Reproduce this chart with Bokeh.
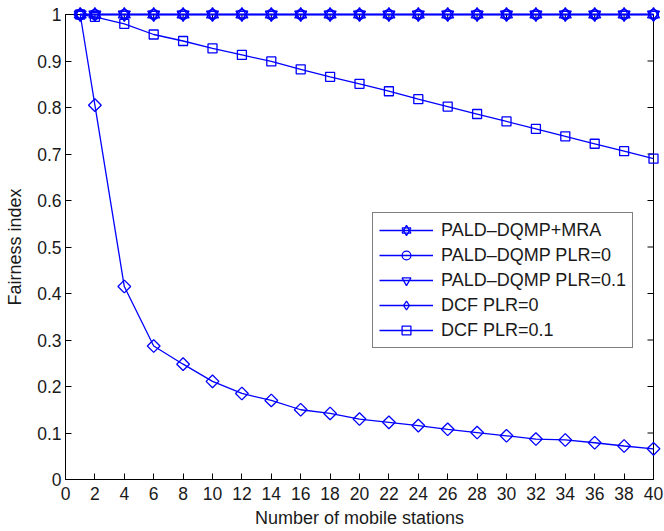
import numpy as np
from bokeh.plotting import figure
from bokeh.models import FixedTicker, Legend, LegendItem, Range1d
from bokeh.embed import file_html
from bokeh.resources import INLINE

stations = [1, 2, 4, 6, 8, 10, 12, 14, 16, 18, 20, 22, 24, 26, 28, 30, 32, 34, 36, 38, 40]
pald_mra = [1.0, 1.0, 1.0, 1.0, 1.0, 1.0, 1.0, 1.0, 1.0, 1.0, 1.0,
            1.0, 1.0, 1.0, 1.0, 1.0, 1.0, 1.0, 1.0, 1.0, 1.0]
pald_plr0 = [1.0, 1.0, 1.0, 1.0, 1.0, 1.0, 1.0, 1.0, 1.0, 1.0, 1.0,
             1.0, 1.0, 1.0, 1.0, 1.0, 1.0, 1.0, 1.0, 1.0, 1.0]
pald_plr01 = [1.0, 1.0, 1.0, 1.0, 1.0, 1.0, 1.0, 1.0, 1.0, 1.0, 1.0,
              1.0, 1.0, 1.0, 1.0, 1.0, 1.0, 1.0, 1.0, 1.0, 1.0]
dcf_plr0 = [1.0, 0.805, 0.415, 0.287, 0.248, 0.211, 0.185, 0.170, 0.150, 0.142, 0.130,
            0.123, 0.116, 0.108, 0.101, 0.094, 0.087, 0.085, 0.079, 0.072, 0.066]
dcf_plr01 = [1.0, 0.995, 0.980, 0.957, 0.943, 0.927, 0.913, 0.899, 0.882, 0.866, 0.851,
             0.835, 0.818, 0.802, 0.786, 0.770, 0.754, 0.738, 0.722, 0.706, 0.690]

series_names = ["PALD\u2013DQMP+MRA", "PALD\u2013DQMP PLR=0", "PALD\u2013DQMP PLR=0.1",
                "DCF PLR=0", "DCF PLR=0.1"]

x_ticks = [0, 2, 4, 6, 8, 10, 12, 14, 16, 18, 20, 22, 24, 26, 28, 30, 32, 34, 36, 38, 40]
y_ticks = [0, 0.1, 0.2, 0.3, 0.4, 0.5, 0.6, 0.7, 0.8, 0.9, 1]
y_tick_labels = ["0", "0.1", "0.2", "0.3", "0.4", "0.5", "0.6", "0.7", "0.8", "0.9", "1"]

FONT = "Liberation Sans"
BLUE = "#0000ff"
LW = 1.3
X_MIN, X_MAX = 0, 40
Y_MIN, Y_MAX = 0, 1

p = figure(width=664, height=531, output_backend="svg", toolbar_location=None,
           x_range=Range1d(X_MIN, X_MAX), y_range=Range1d(Y_MIN, Y_MAX),
           min_border_left=65, min_border_right=11, min_border_top=14, min_border_bottom=52,
           background_fill_color="white", border_fill_color="white",
           x_axis_label="Number of mobile stations", y_axis_label="Fairness index")
p.grid.visible = False
p.outline_line_color = "black"
p.outline_line_width = 1

for ax in (p.xaxis[0], p.yaxis[0]):
    ax.axis_line_color = "black"
    ax.axis_line_width = 1
    ax.major_tick_in = 6
    ax.major_tick_out = 0
    ax.minor_tick_in = 0
    ax.minor_tick_out = 0
    ax.major_tick_line_color = "black"
    ax.major_label_text_font = FONT
    ax.major_label_text_font_size = "17.5px"
    ax.major_label_text_color = "#1a1a1a"
    ax.axis_label_text_font = FONT
    ax.axis_label_text_font_size = "18px"
    ax.axis_label_text_font_style = "normal"
    ax.axis_label_text_color = "#1a1a1a"

p.xaxis[0].ticker = FixedTicker(ticks=x_ticks)
p.yaxis[0].ticker = FixedTicker(ticks=y_ticks)
p.yaxis[0].major_label_overrides = {t: l for t, l in zip(y_ticks, y_tick_labels)}
p.xaxis[0].major_label_standoff = 7
p.xaxis[0].axis_label_standoff = 5
p.yaxis[0].major_label_standoff = 4
p.yaxis[0].axis_label_standoff = 9

# inward ticks on the top and right edges (clipped to the frame -> inward half only)
p.scatter(x_ticks, [Y_MAX] * len(x_ticks), marker="dash", angle=np.pi / 2, size=12,
          line_color="black", line_width=1)
p.scatter([X_MAX] * len(y_ticks), y_ticks, marker="dash", size=12,
          line_color="black", line_width=1)

lvl = "overlay"
# DCF PLR=0.1 (squares)
l5 = p.line(stations, dcf_plr01, line_color=BLUE, line_width=LW, level=lvl)
m5 = p.scatter(stations, dcf_plr01, marker="square", size=9, line_color=BLUE,
               fill_color=None, line_width=LW, level=lvl)
# DCF PLR=0 (diamonds)
l4 = p.line(stations, dcf_plr0, line_color=BLUE, line_width=LW, level=lvl)
m4 = p.scatter(stations, dcf_plr0, marker="square", angle=np.pi / 4, size=9, line_color=BLUE,
               fill_color=None, line_width=LW, level=lvl)
# legend-only proxy (a diamond shape for the legend swatch; not drawn in the plot)
m4_leg = p.scatter([float("nan")], [float("nan")], marker="diamond", size=13, line_color=BLUE,
                   fill_color=None, line_width=LW)
# PALD-DQMP PLR=0.1 (down triangles)
l3 = p.line(stations, pald_plr01, line_color=BLUE, line_width=LW, level=lvl)
m3 = p.scatter(stations, pald_plr01, marker="inverted_triangle", size=11, line_color=BLUE,
               fill_color=None, line_width=LW, level=lvl)
# PALD-DQMP PLR=0 (circles)
l2 = p.line(stations, pald_plr0, line_color=BLUE, line_width=LW, level=lvl)
m2 = p.scatter(stations, pald_plr0, marker="circle", size=10, line_color=BLUE,
               fill_color=None, line_width=LW, level=lvl)
# PALD-DQMP+MRA (hexagram = up + down triangles)
l1 = p.line(stations, pald_mra, line_color=BLUE, line_width=LW, level=lvl)
m1a = p.scatter(stations, pald_mra, marker="triangle", size=12, line_color=BLUE,
                fill_color=None, line_width=LW, level=lvl)
m1b = p.scatter(stations, pald_mra, marker="inverted_triangle", size=12, line_color=BLUE,
                fill_color=None, line_width=LW, level=lvl)

legend = Legend(items=[
    LegendItem(label=series_names[0], renderers=[l1, m1a, m1b]),
    LegendItem(label=series_names[1], renderers=[l2, m2]),
    LegendItem(label=series_names[2], renderers=[l3, m3]),
    LegendItem(label=series_names[3], renderers=[l4, m4_leg]),
    LegendItem(label=series_names[4], renderers=[l5, m5]),
], location=(307, 131))
legend.border_line_color = "black"
legend.border_line_width = 1
legend.background_fill_color = "white"
legend.background_fill_alpha = 1
legend.label_text_font = FONT
legend.label_text_font_size = "18px"
legend.label_text_color = "#1a1a1a"
legend.glyph_width = 54
legend.glyph_height = 22
legend.label_height = 22
legend.spacing = 3
legend.padding = 6
legend.margin = 0
legend.label_standoff = 8
p.add_layout(legend)

open("out.html", "w").write(file_html(p, INLINE))
